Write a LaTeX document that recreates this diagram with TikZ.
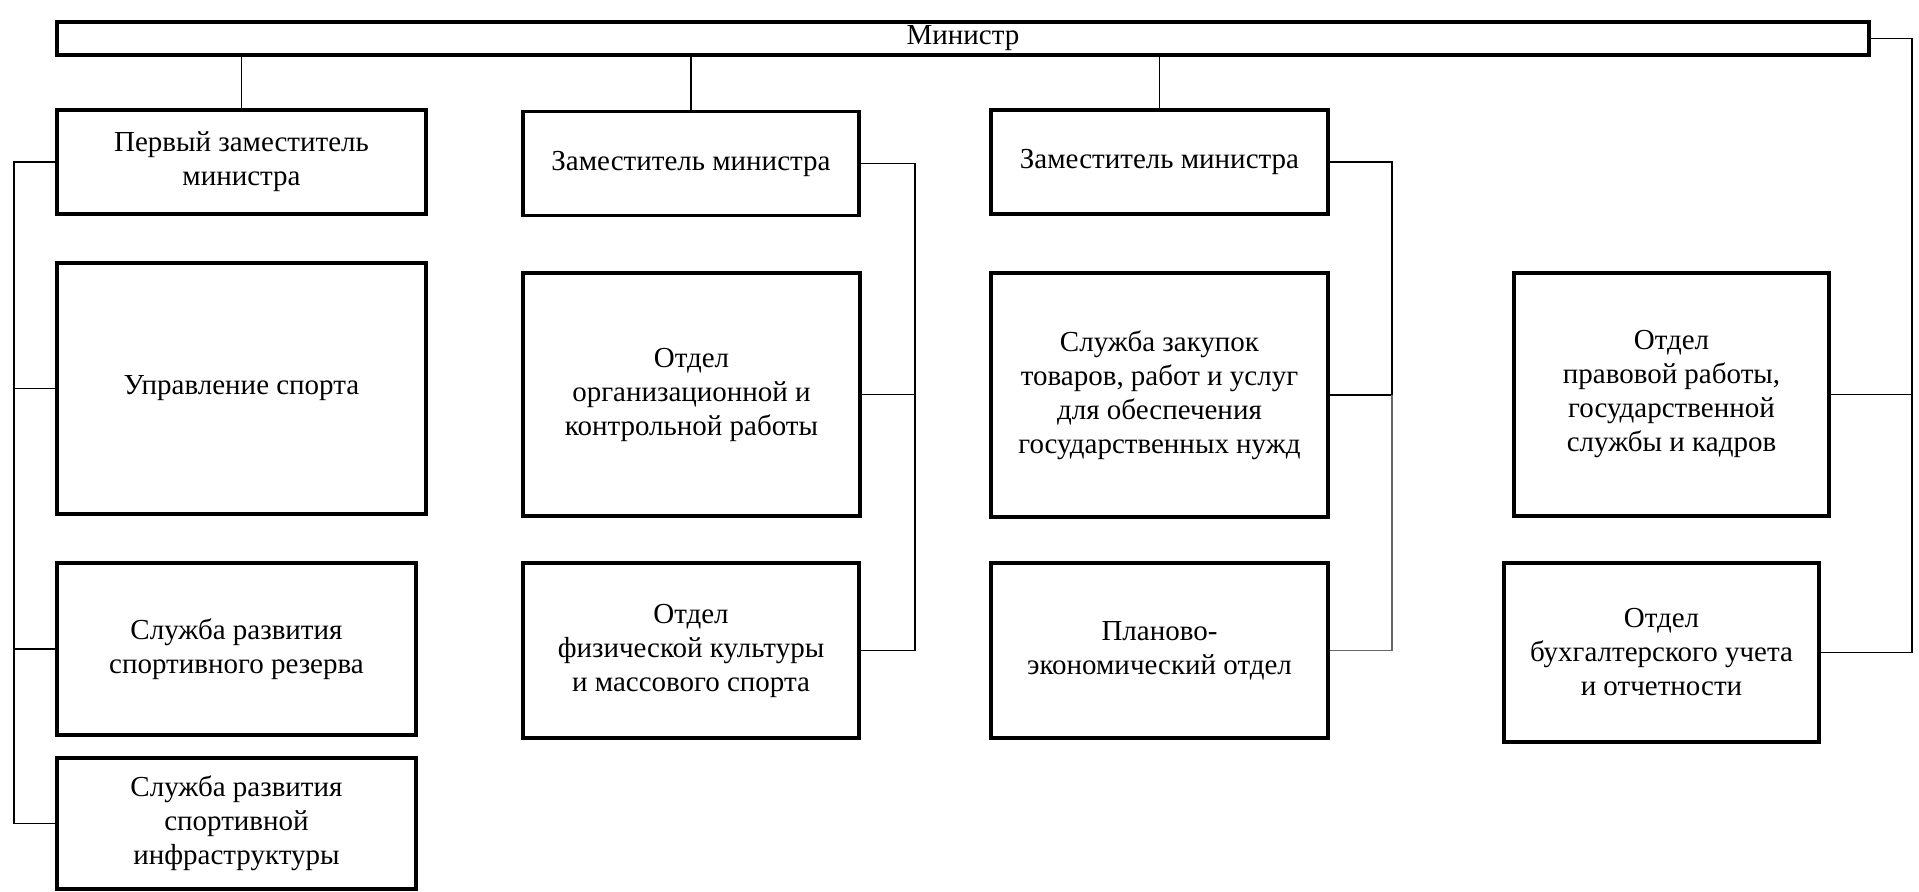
\documentclass[tikz,border=0pt]{standalone}
\usepackage{fontspec}
\setmainfont{Liberation Serif}
\begin{document}
\begin{tikzpicture}[x=0.5pt,y=-0.5pt,
  box/.style={draw, line width=1.7pt, align=center, inner sep=0pt,
    font=\fontsize{14.5}{17}\selectfont},
  link/.style={line width=0.9pt}]
\useasboundingbox (0,0) rectangle (1919,891);
\node[box, minimum width=906pt, minimum height=16.5pt] (min) at (963,38.5) {\raisebox{-1pt}{Министр}};
% deputies
\node[box, minimum width=184.5pt, minimum height=52pt] (d1) at (241.5,162) {Первый заместитель\\министра};
\node[box, minimum width=168pt, minimum height=52pt] (d2) at (691,163.5) {Заместитель министра};
\node[box, minimum width=168.5pt, minimum height=52pt] (d3) at (1159.5,162) {Заместитель министра};
% row 2
\node[box, minimum width=184.5pt, minimum height=125.5pt] (upr) at (241.5,388.5) {Управление спорта};
\node[box, minimum width=168.5pt, minimum height=121.5pt] (org) at (691.5,394.5) {Отдел\\организационной и\\контрольной работы};
\node[box, minimum width=168.5pt, minimum height=122pt] (zak) at (1159.5,395) {Служба закупок\\товаров, работ и услуг\\для обеспечения\\государственных нужд};
\node[box, minimum width=157.5pt, minimum height=121.5pt] (prav) at (1671.5,394.5) {Отдел\\правовой работы,\\государственной\\службы и кадров};
% row 3
\node[box, minimum width=179.5pt, minimum height=86pt] (rez) at (236.5,649) {Служба развития\\спортивного резерва};
\node[box, minimum width=168pt, minimum height=87.5pt] (fiz) at (691,650.5) {Отдел\\физической культуры\\и массового спорта};
\node[box, minimum width=168.5pt, minimum height=87.5pt] (plan) at (1159.5,650.5) {Планово-\\экономический отдел};
\node[box, minimum width=157.5pt, minimum height=89.5pt] (buh) at (1661.5,652.5) {Отдел\\бухгалтерского учета\\и отчетности};
% row 4
\node[box, minimum width=179.5pt, minimum height=65.5pt] (infr) at (236.5,823.5) {Служба развития\\спортивной\\инфраструктуры};
% bus coordinates
\coordinate (bL) at (14,0);
\coordinate (b2) at (915,0);
\coordinate (b3) at (1392,0);
\coordinate (bR) at (1912,0);
% minister to deputies
\draw[link] (min.south -| d1.north) -- (d1.north);
\draw[link] (min.south -| d2.north) -- (d2.north);
\draw[link] (min.south -| d3.north) -- (d3.north);
% left bus
\draw[link] (d1.west) -- (d1.west -| bL) -- (infr.west -| bL) -- (infr.west);
\draw[link] (upr.west -| bL) -- (upr.west);
\draw[link] (rez.west -| bL) -- (rez.west);
% bus 2
\draw[link] (d2.east) -- (d2.east -| b2) -- (fiz.east -| b2) -- (fiz.east);
\draw[link] (org.east) -- (org.east -| b2);
% bus 3
\draw[link] (d3.east) -- (d3.east -| b3) -- (zak.east -| b3);
\draw[link] (zak.east) -- (zak.east -| b3);
\draw[line width=0.6pt, black!60] (zak.east -| b3) -- (plan.east -| b3) -- (plan.east);
% right bus
\draw[link] (min.east) -- (min.east -| bR) -- (buh.east -| bR) -- (buh.east);
\draw[link] (prav.east) -- (prav.east -| bR);
\end{tikzpicture}
\end{document}
